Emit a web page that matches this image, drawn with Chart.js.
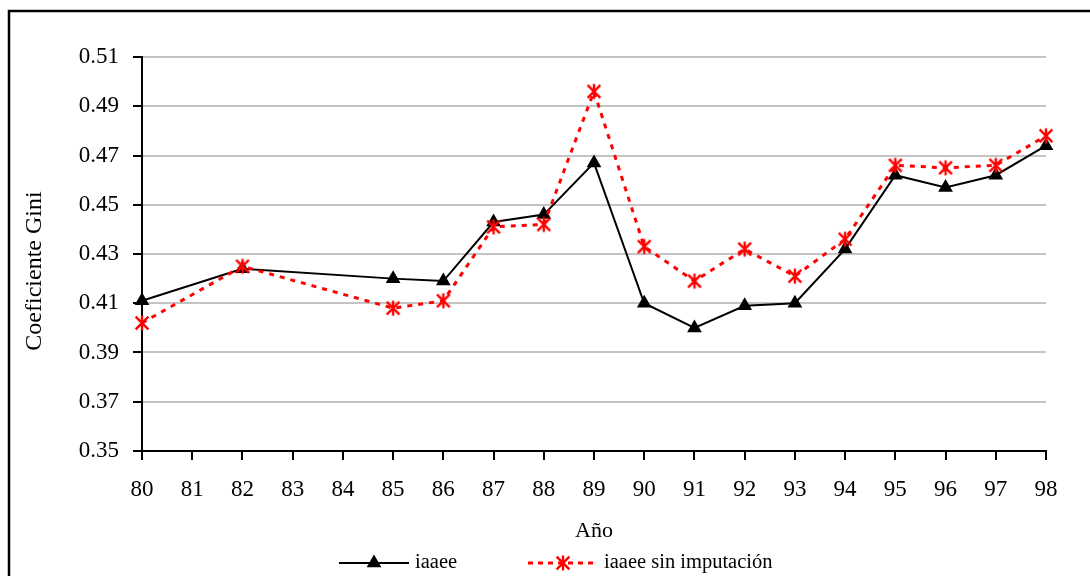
<!DOCTYPE html>
<html lang="es">
<head>
<meta charset="utf-8">
<title>Coeficiente Gini</title>
<script src="https://cdn.jsdelivr.net/npm/chart.js@4/dist/chart.umd.min.js"></script>
<style>
  html, body { margin: 0; padding: 0; background: #fff; overflow: hidden; }
  #contenedor { width: 1090px; height: 576px; position: relative; }
</style>
</head>
<body>
<div id="contenedor"><canvas id="grafico-gini"></canvas></div>
<script>
// --- Datos ---
const anos = ['80', '81', '82', '83', '84', '85', '86', '87', '88', '89', '90', '91', '92', '93', '94', '95', '96', '97', '98'];
const giniIaaee = [0.411, null, 0.424, null, null, 0.420, 0.419, 0.443, 0.446, 0.467, 0.410, 0.400, 0.409, 0.410, 0.432, 0.462, 0.457, 0.462, 0.474];
const giniSinImputacion = [0.402, null, 0.425, null, null, 0.408, 0.411, 0.441, 0.442, 0.496, 0.433, 0.419, 0.432, 0.421, 0.436, 0.466, 0.465, 0.466, 0.478];
const ticksY = [0.35, 0.37, 0.39, 0.41, 0.43, 0.45, 0.47, 0.49, 0.51];
const tituloY = 'Coeficiente Gini';

const fuente = "'Liberation Serif', 'DejaVu Serif', serif";
const ROJO = '#ff0000';

// Asterisco rojo (barra vertical + aspa) usado como marcador
function crearAsterisco(tam, color) {
    const c = document.createElement('canvas');
    c.width = tam; c.height = tam;
    const g = c.getContext('2d');
    const m = tam / 2, r = tam / 2 - 1.5;
    g.strokeStyle = color;
    g.lineWidth = 2.4;
    g.beginPath();
    g.moveTo(m, m - r); g.lineTo(m, m + r);
    g.moveTo(m - r * 0.85, m - r * 0.85); g.lineTo(m + r * 0.85, m + r * 0.85);
    g.moveTo(m + r * 0.85, m - r * 0.85); g.lineTo(m - r * 0.85, m + r * 0.85);
    g.stroke();
    return c;
}
const asterisco = crearAsterisco(18, ROJO);

function dibujarTriangulo(ctx, x, y, r) {
    ctx.beginPath();
    ctx.moveTo(x, y - r);
    ctx.lineTo(x + r * Math.sin(Math.PI / 3), y + r / 2);
    ctx.lineTo(x - r * Math.sin(Math.PI / 3), y + r / 2);
    ctx.closePath();
    ctx.fill();
}

// Marco exterior y título vertical del eje Y
const marco = {
    id: 'marco',
    afterDraw(chart) {
        const ctx = chart.ctx;
        ctx.save();
        ctx.strokeStyle = '#000';
        ctx.lineWidth = 2.5;
        ctx.beginPath();
        ctx.moveTo(9, chart.height + 5);
        ctx.lineTo(9, 11);
        ctx.lineTo(chart.width + 5, 11);
        ctx.stroke();

        ctx.translate(35, 271);
        ctx.rotate(-Math.PI / 2);
        ctx.font = '24px ' + fuente;
        ctx.fillStyle = '#000';
        ctx.textAlign = 'center';
        ctx.textBaseline = 'middle';
        ctx.fillText(tituloY, 0, 0);
        ctx.restore();
    }
};

// Leyenda con línea y marcador de cada serie
const leyenda = {
    id: 'leyenda',
    afterDraw(chart) {
        const ctx = chart.ctx;
        const y = 563;
        ctx.save();
        ctx.font = '20.5px ' + fuente;
        ctx.textBaseline = 'middle';
        ctx.fillStyle = '#000';

        // iaaee
        ctx.strokeStyle = '#000';
        ctx.lineWidth = 2;
        ctx.beginPath();
        ctx.moveTo(339, y); ctx.lineTo(409, y);
        ctx.stroke();
        dibujarTriangulo(ctx, 374, y, 8.5);
        ctx.fillText(chart.data.datasets[0].label, 415, y);

        // iaaee sin imputación
        ctx.strokeStyle = ROJO;
        ctx.lineWidth = 3;
        ctx.setLineDash([5, 5]);
        ctx.beginPath();
        ctx.moveTo(528, y); ctx.lineTo(597, y);
        ctx.stroke();
        ctx.setLineDash([]);
        ctx.drawImage(asterisco, 563 - 9, y - 9);
        ctx.fillStyle = '#000';
        ctx.fillText(chart.data.datasets[1].label, 604, y);
        ctx.restore();
    }
};

const ctxGini = document.getElementById('grafico-gini').getContext('2d');
new Chart(ctxGini, {
    type: 'line',
    data: {
        labels: anos,
        datasets: [
            {
                label: 'iaaee',
                data: giniIaaee,
                borderColor: '#000',
                backgroundColor: '#000',
                borderWidth: 2,
                pointStyle: 'triangle',
                pointRadius: 8.5,
                pointBorderWidth: 0,
                spanGaps: true,
                tension: 0,
                order: 1
            },
            {
                label: 'iaaee sin imputación',
                data: giniSinImputacion,
                borderColor: ROJO,
                backgroundColor: ROJO,
                borderWidth: 3,
                borderDash: [5, 6],
                pointStyle: asterisco,
                pointRadius: 9,
                spanGaps: true,
                tension: 0,
                order: 0
            }
        ]
    },
    options: {
        responsive: true,
        maintainAspectRatio: false,
        animation: false,
        layout: { padding: { top: 57, right: 44, left: 0, bottom: 0 } },
        plugins: {
            legend: { display: false },
            tooltip: { enabled: false }
        },
        scales: {
            x: {
                offset: false,
                afterFit: s => { s.height = 125; },
                grid: { drawOnChartArea: false, drawTicks: true, tickLength: 9, tickColor: '#000', lineWidth: 2 },
                border: { color: '#000', width: 2 },
                ticks: { color: '#000', padding: 16, maxRotation: 0, autoSkip: false, font: { family: fuente, size: 23 } },
                title: { display: true, text: 'Año', color: '#000', font: { family: fuente, size: 22 }, padding: { bottom: 32, top: 0 } }
            },
            y: {
                min: 0.35,
                max: 0.51,
                afterFit: s => { s.width = 142; },
                afterBuildTicks: s => { s.ticks = ticksY.map(v => ({ value: v })); },
                grid: { color: '#c4c4c4', lineWidth: 2, tickLength: 9, tickColor: '#000' },
                border: { color: '#000', width: 2 },
                ticks: { color: '#000', padding: 14, font: { family: fuente, size: 23 }, callback: v => v.toFixed(2) },
                title: { display: false }
            }
        }
    },
    plugins: [marco, leyenda]
});
</script>
</body>
</html>
